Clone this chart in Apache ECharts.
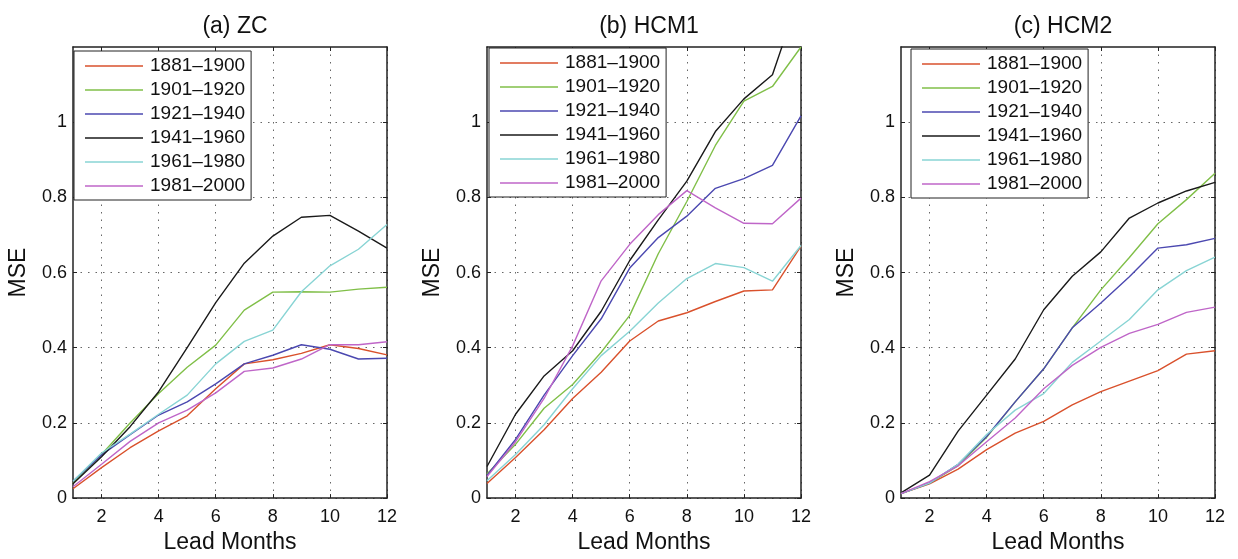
<!DOCTYPE html>
<html>
<head>
<meta charset="utf-8">
<script src="https://cdn.jsdelivr.net/npm/echarts@6/dist/echarts.min.js"></script>
<style>
html,body{margin:0;padding:0;background:#fff}
#chart{width:1238px;height:559px}
</style>
</head>
<body>
<div id="chart"></div>
<script>
var months = [1, 2, 3, 4, 5, 6, 7, 8, 9, 10, 11, 12];
var periods = ['1881–1900', '1901–1920', '1921–1940', '1941–1960', '1961–1980', '1981–2000'];
var panelTitles = ['(a) ZC', '(b) HCM1', '(c) HCM2'];
var xTicks = [2, 4, 6, 8, 10, 12];
var yTicks = [0, 0.2, 0.4, 0.6, 0.8, 1];

// (a) ZC
var zc1881 = [0.025, 0.081, 0.134, 0.179, 0.219, 0.291, 0.357, 0.368, 0.385, 0.408, 0.398, 0.381];
var zc1901 = [0.040, 0.116, 0.200, 0.278, 0.348, 0.407, 0.500, 0.548, 0.549, 0.548, 0.556, 0.561];
var zc1921 = [0.045, 0.115, 0.169, 0.221, 0.256, 0.304, 0.357, 0.380, 0.408, 0.396, 0.370, 0.372];
var zc1941 = [0.038, 0.110, 0.190, 0.283, 0.400, 0.520, 0.625, 0.697, 0.747, 0.752, 0.710, 0.665];
var zc1961 = [0.045, 0.120, 0.170, 0.223, 0.274, 0.357, 0.417, 0.447, 0.549, 0.618, 0.662, 0.728];
var zc1981 = [0.030, 0.090, 0.151, 0.200, 0.234, 0.280, 0.337, 0.346, 0.370, 0.408, 0.408, 0.416];

// (b) HCM1
var h1_1881 = [0.039, 0.108, 0.182, 0.265, 0.335, 0.418, 0.471, 0.493, 0.523, 0.551, 0.554, 0.670];
var h1_1901 = [0.064, 0.143, 0.239, 0.302, 0.388, 0.486, 0.650, 0.789, 0.938, 1.056, 1.095, 1.200];
var h1_1921 = [0.060, 0.156, 0.274, 0.379, 0.477, 0.612, 0.693, 0.750, 0.824, 0.850, 0.885, 1.017];
var h1_1941 = [0.084, 0.223, 0.325, 0.392, 0.497, 0.632, 0.740, 0.843, 0.975, 1.062, 1.126, 1.350];
var h1_1961 = [0.046, 0.116, 0.195, 0.291, 0.379, 0.444, 0.519, 0.584, 0.624, 0.613, 0.577, 0.672];
var h1_1981 = [0.057, 0.150, 0.265, 0.405, 0.578, 0.675, 0.754, 0.818, 0.772, 0.731, 0.730, 0.798];

// (c) HCM2
var h2_1881 = [0.012, 0.038, 0.077, 0.129, 0.173, 0.204, 0.248, 0.283, 0.311, 0.339, 0.383, 0.392];
var h2_1901 = [0.012, 0.040, 0.086, 0.162, 0.256, 0.344, 0.453, 0.554, 0.640, 0.730, 0.794, 0.864];
var h2_1921 = [0.012, 0.040, 0.090, 0.164, 0.256, 0.344, 0.453, 0.519, 0.589, 0.665, 0.674, 0.691];
var h2_1941 = [0.014, 0.061, 0.178, 0.274, 0.370, 0.501, 0.590, 0.655, 0.745, 0.785, 0.817, 0.840];
var h2_1961 = [0.012, 0.040, 0.090, 0.169, 0.234, 0.278, 0.361, 0.418, 0.475, 0.554, 0.605, 0.641];
var h2_1981 = [0.012, 0.044, 0.086, 0.150, 0.213, 0.291, 0.353, 0.401, 0.438, 0.462, 0.494, 0.508];

var panels = [
    [zc1881, zc1901, zc1921, zc1941, zc1961, zc1981],
    [h1_1881, h1_1901, h1_1921, h1_1941, h1_1961, h1_1981],
    [h2_1881, h2_1901, h2_1921, h2_1941, h2_1961, h2_1981]
];

var colors = ['#d9512c', '#80bf48', '#4b48b0', '#1a1a1a', '#88d4d4', '#bf66c8'];
var font = '"Liberation Sans", Arial, sans-serif';
var gridLeft = [73, 487, 901];
var gridWidth = 314;
var legendPos = [[74, 51], [489, 48], [911, 49]];

var grids = [], xAxes = [], yAxes = [], titles = [], legends = [], series = [];

function yLabel(v){
    return String(Math.round(v * 10) / 10);
}

for (var p = 0; p < 3; p++) {
    grids.push({ left: gridLeft[p], width: gridWidth, top: 47, bottom: 55 });
    titles.push({
        text: panelTitles[p],
        left: gridLeft[p] + gridWidth / 2,
        top: 10,
        textAlign: 'center',
        textStyle: { fontFamily: font, fontSize: 23, fontWeight: 'normal', color: '#111' }
    });
    legends.push({
        orient: 'vertical',
        left: legendPos[p][0],
        top: legendPos[p][1],
        data: periods,
        icon: 'rect',
        itemWidth: 58,
        itemHeight: 1.4,
        itemGap: 4,
        padding: [5, 6, 4, 11],
        backgroundColor: '#fff',
        borderColor: '#222',
        borderWidth: 1,
        selectedMode: false,
        textStyle: { fontFamily: font, fontSize: 19, color: '#111', lineHeight: 20, padding: [0, 0, 0, 2] }
    });
}

// main axes (bottom / left)
for (var p = 0; p < 3; p++) {
    xAxes.push({
        type: 'value', gridIndex: p, min: 1, max: 12,
        name: 'Lead Months', nameLocation: 'middle', nameGap: 29,
        nameTextStyle: { fontFamily: font, fontSize: 23, color: '#111' },
        axisLine: { lineStyle: { color: '#222', width: 1.5 } },
        axisTick: { inside: true, length: 4, customValues: xTicks, lineStyle: { color: '#222' } },
        axisLabel: { customValues: xTicks, margin: 10, fontFamily: font, fontSize: 18, color: '#111' },
        splitLine: { show: true, lineStyle: { color: '#666', type: [1.5, 6], width: 1 } }
    });
}
for (var p = 0; p < 3; p++) {
    yAxes.push({
        type: 'value', gridIndex: p, min: 0, max: 1.2,
        name: 'MSE', nameLocation: 'middle', nameGap: 43,
        nameTextStyle: { fontFamily: font, fontSize: 23, color: '#111' },
        axisLine: { show: true, lineStyle: { color: '#222', width: 1.5 } },
        axisTick: { show: true, inside: true, length: 4, customValues: yTicks, lineStyle: { color: '#222' } },
        axisLabel: { customValues: yTicks, margin: 6, fontFamily: font, fontSize: 18, color: '#111', formatter: yLabel },
        splitLine: { show: true, lineStyle: { color: '#666', type: [1.5, 6], width: 1 } }
    });
}
// mirror axes (top / right) for the box and inner ticks
for (var p = 0; p < 3; p++) {
    xAxes.push({
        type: 'value', gridIndex: p, min: 1, max: 12, position: 'top',
        axisLine: { onZero: false, lineStyle: { color: '#222', width: 1.5 } },
        axisTick: { inside: true, length: 4, customValues: xTicks, lineStyle: { color: '#222' } },
        axisLabel: { show: false },
        splitLine: { show: false }
    });
}
for (var p = 0; p < 3; p++) {
    yAxes.push({
        type: 'value', gridIndex: p, min: 0, max: 1.2, position: 'right',
        axisLine: { show: true, onZero: false, lineStyle: { color: '#222', width: 1.5 } },
        axisTick: { show: true, inside: true, length: 4, customValues: yTicks, lineStyle: { color: '#222' } },
        axisLabel: { show: false },
        splitLine: { show: false }
    });
}

for (var p = 0; p < 3; p++) {
    panels[p].forEach(function(vals, k){
        series.push({
            name: periods[k],
            type: 'line',
            xAxisIndex: p,
            yAxisIndex: p,
            data: months.map(function(m, i){ return [m, vals[i]]; }),
            showSymbol: false,
            clip: true,
            color: colors[k],
            lineStyle: { color: colors[k], width: 1.4 },
            emphasis: { disabled: true },
            animation: false
        });
    });
}

var myChart = echarts.init(document.getElementById('chart'));
myChart.setOption({
    backgroundColor: '#fff',
    animation: false,
    title: titles,
    legend: legends,
    grid: grids,
    xAxis: xAxes,
    yAxis: yAxes,
    series: series
});
</script>
</body>
</html>
